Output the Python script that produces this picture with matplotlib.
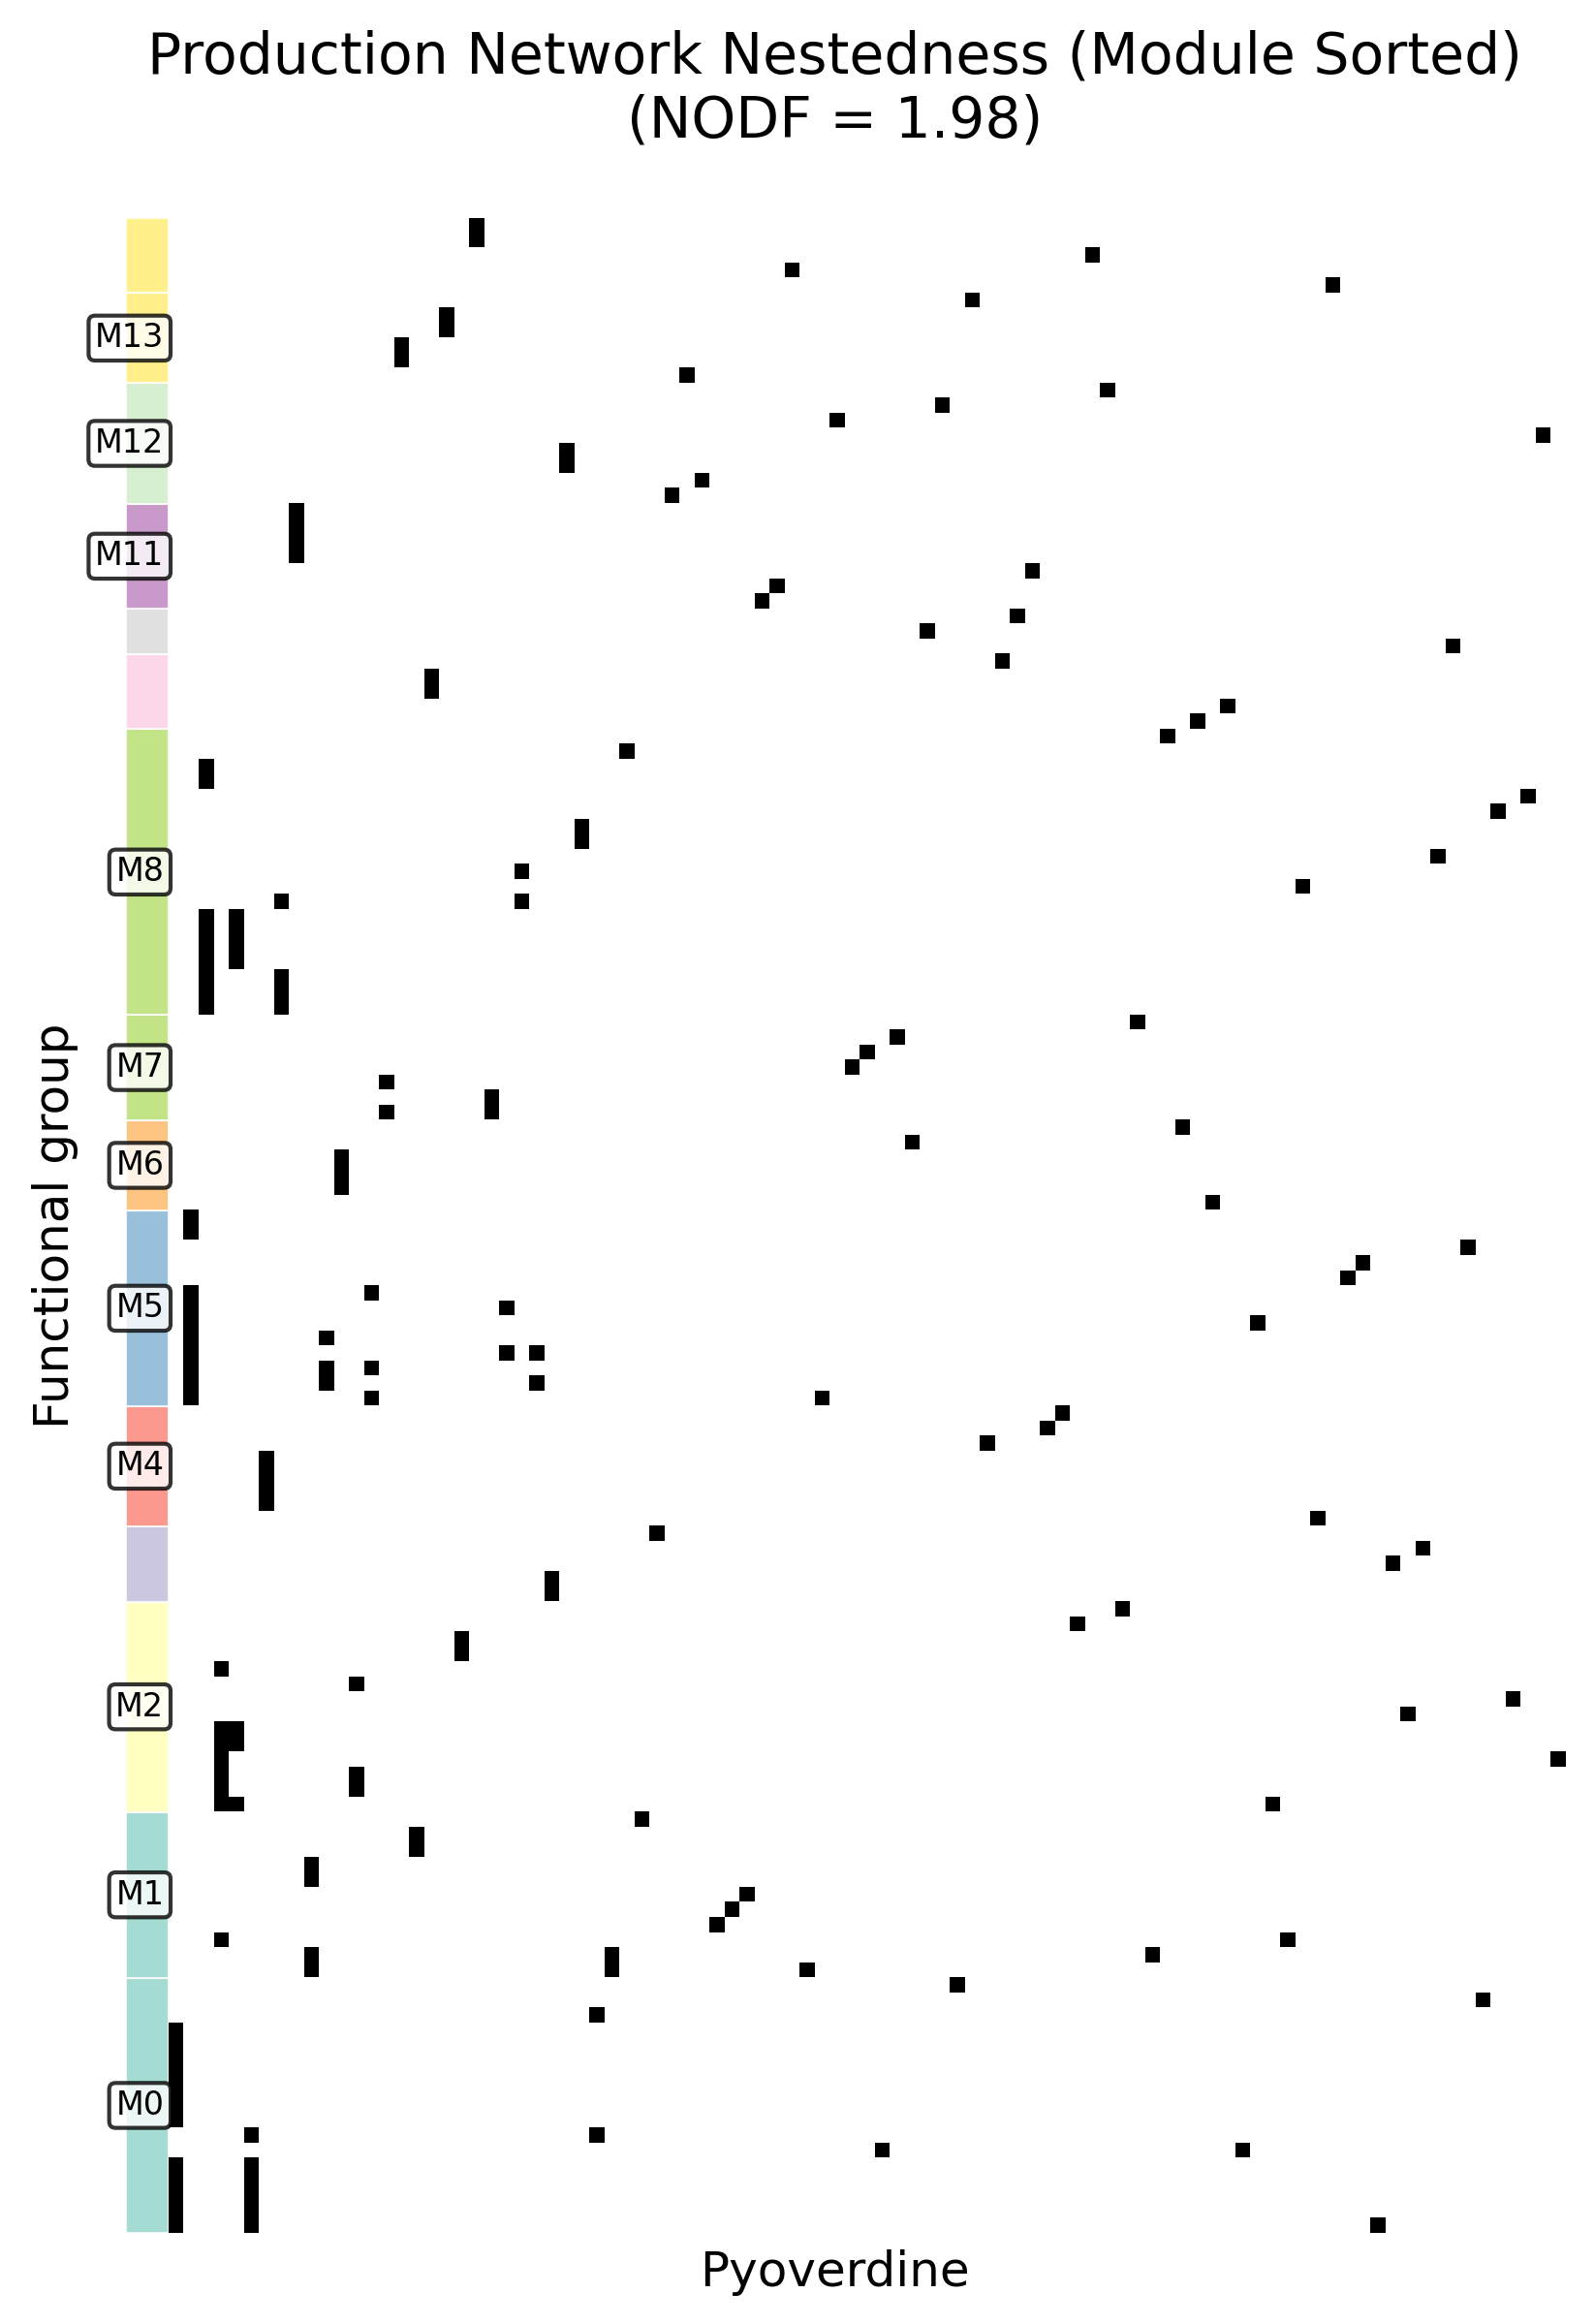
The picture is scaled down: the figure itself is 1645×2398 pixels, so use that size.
import numpy as np
import matplotlib
matplotlib.use("Agg")
import matplotlib.pyplot as plt
from matplotlib.patches import Rectangle

# ---------------- data ----------------
title_text = "Production Network Nestedness (Module Sorted)\n(NODF = 1.98)"
x_label = "Pyoverdine"
y_label = "Functional group"

n_rows = 134          # functional groups (row 0 = top)
n_cols = 93           # pyoverdines

# modules listed bottom -> top
module_names = ["M0", "M1", "M2", "M3", "M4", "M5", "M6", "M7",
                "M8", "M9", "M10", "M11", "M12", "M13", "M14"]
module_sizes = [17, 11, 14, 5, 8, 13, 6, 7, 19, 5, 3, 7, 8, 6, 5]

# filled cells (row index counted from the top, column index from the left)
cell_rows = [0, 1, 2, 3, 4, 5, 6, 7, 8, 9, 10, 11, 12, 13, 14, 15, 16, 17, 18,
             19, 20, 21, 22, 23, 24, 25, 26, 27, 28, 29, 30, 31, 32, 33, 34, 35,
             36, 37, 38, 39, 40, 41, 42, 43, 44, 45, 45, 46, 46, 47, 47, 48, 48,
             49, 49, 50, 50, 51, 51, 52, 52, 53, 54, 55, 56, 57, 58, 59, 59, 60,
             61, 62, 63, 64, 65, 66, 67, 68, 69, 70, 71, 71, 72, 72, 73, 73, 74,
             74, 75, 75, 75, 76, 76, 76, 77, 77, 77, 78, 78, 78, 79, 80, 81, 82,
             83, 84, 85, 86, 87, 88, 89, 90, 91, 92, 93, 94, 95, 96, 97, 98, 99,
             100, 100, 101, 101, 102, 102, 103, 103, 104, 104, 105, 105, 105,
             106, 107, 108, 109, 110, 111, 112, 113, 114, 114, 115, 115, 115,
             116, 116, 116, 117, 118, 119, 120, 121, 122, 123, 124, 125, 126,
             127, 127, 128, 128, 129, 129, 130, 130, 131, 131, 132, 132,
             133, 133, 133]
cell_cols = [20, 20, 61, 41, 77, 53, 18, 18, 15, 15, 34, 62, 51, 44, 91, 26, 26,
             35, 33, 8, 8, 8, 8, 57, 40, 39, 56, 50, 85, 55, 17, 17, 70, 68, 66,
             30, 2, 2, 90, 88, 27, 27, 84, 23, 75, 7, 23, 2, 4, 2, 4, 2, 4, 2, 4,
             2, 7, 2, 7, 2, 7, 64, 48, 46, 45, 14, 21, 14, 21, 67, 49, 11, 11, 11,
             69, 1, 1, 86, 79, 78, 1, 13, 1, 22, 1, 72, 1, 10, 1, 22, 24, 1, 10,
             13, 1, 10, 24, 1, 13, 43, 59, 58, 54, 6, 6, 6, 6, 76, 32, 83, 81, 25,
             25, 63, 60, 19, 19, 3, 12, 89, 82, 3, 4, 3, 4, 3, 92, 3, 12, 3, 12,
             3, 4, 73, 31, 16, 16, 9, 9, 38, 37, 36, 3, 74, 9, 29, 65, 9, 29, 42,
             52, 87, 28, 0, 0, 0, 0, 0, 0, 0, 5, 28, 47, 71, 0, 5, 0, 5, 0, 5,
             0, 5, 0, 5, 80]

assert len(cell_rows) == len(cell_cols)

# ---------------- figure ----------------
W, H, DPI = 1645, 2398, 300
fig = plt.figure(figsize=(W / DPI, H / DPI), dpi=DPI)

# axes placement in pixels (matrix cells ~15.5 px)
cell_px = 15.5
mat_left_px, mat_top_px = 174.0, 224.7
x_min = -4.75
ax_left_px = mat_left_px + (x_min + 0.5) * cell_px
ax_right_px = mat_left_px + n_cols * cell_px
ax_bottom_px = mat_top_px + n_rows * 15.52
ax = fig.add_axes([ax_left_px / W, 1 - ax_bottom_px / H,
                   (ax_right_px - ax_left_px) / W,
                   (ax_bottom_px - mat_top_px) / H])

matrix = np.zeros((n_rows, n_cols))
matrix[np.array(cell_rows), np.array(cell_cols)] = 1
ax.imshow(matrix, cmap="Greys", vmin=0, vmax=1, aspect="auto",
          interpolation="nearest", origin="upper", zorder=2)

# module colour bar and labels
cmap = plt.cm.Set3
n_mod = len(module_sizes)
bar_x0, bar_x1 = -3.33, -0.5
cum = 0
for i, (name, size) in enumerate(zip(module_names, module_sizes)):
    cum += size
    start = n_rows - cum          # top row of this module
    color = cmap(i / (n_mod - 1))
    ax.add_patch(Rectangle((bar_x0, start - 0.5), bar_x1 - bar_x0, size,
                           facecolor=color, alpha=0.8, edgecolor="white",
                           linewidth=0.5, zorder=1))
    if size > 5:
        ax.text(-0.8, start - 0.5 + size / 2, name, ha="right", va="center",
                fontsize=8, zorder=5,
                bbox=dict(boxstyle="round,pad=0.2", facecolor="white",
                          edgecolor="black", alpha=0.8, linewidth=1.0))

ax.set_xlim(x_min, n_cols - 0.5)
ax.set_ylim(n_rows - 0.5, -0.5)
ax.set_xticks([])
ax.set_yticks([])
for s in ax.spines.values():
    s.set_visible(False)

ax.set_xlabel(x_label, fontsize=12, labelpad=4)
ax.set_ylabel(y_label, fontsize=12, labelpad=6.5)

fig.text((ax_left_px + ax_right_px) / 2 / W, 1 - 30.7 / H, title_text,
         ha="center", va="top", fontsize=14)

fig.savefig("out.png", dpi=DPI)
